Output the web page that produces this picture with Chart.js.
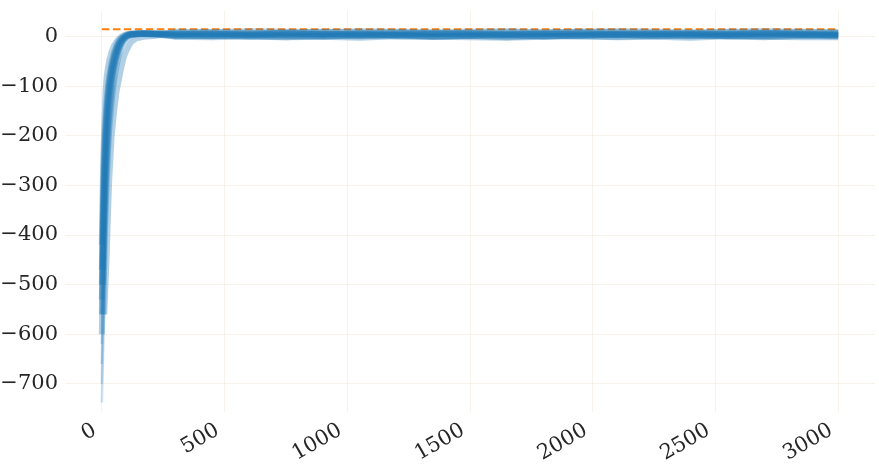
<!DOCTYPE html>
<html>
<head>
<meta charset="utf-8">
<script src="https://cdn.jsdelivr.net/npm/chart.js@4/dist/chart.umd.min.js"></script>
<style>
html,body{margin:0;padding:0;background:#fff;}
#wrap{width:879px;height:475px;position:relative;}
</style>
</head>
<body>
<div id="wrap"><canvas id="c" width="879" height="475"></canvas></div>
<script>
// Step positions shared by all runs
const steps = [0,5,10,15,20,25,30,40,50,60,70,80,90,100,110,120,140,170,220,
  300,450,600,750,900,1050,1200,1350,1500,1650,1800,1950,2100,2250,2400,2550,2700,2850,3000];

// Individual run curves
const run1  = [-420,-260,-180,-110,-80,-62,-48,-30,-18,-10,-4,0,3,5,6,6,7,7,6,
  6,7,5,8,6,5,7,6,8,5,6,7,6,5,7,6,8,6,7];
const run2  = [-700,-560,-450,-360,-290,-235,-190,-130,-88,-58,-36,-20,-10,-3,1,3,5,6,5,
  3,1,4,2,0,3,4,1,2,3,0,3,4,2,1,3,2,4,3];
const run3  = [-660,-500,-390,-310,-250,-200,-160,-105,-70,-45,-27,-14,-6,-1,2,4,5,6,6,
  5,6,4,7,5,6,3,5,6,4,5,7,5,4,6,5,6,5,4];
const run4  = [-620,-470,-360,-280,-220,-175,-140,-92,-60,-38,-22,-11,-4,0,3,4,5,5,4,
  1,2,0,-1,2,1,3,0,2,-1,2,1,0,2,3,1,-1,2,1];
const run5  = [-600,-440,-330,-250,-195,-155,-125,-82,-54,-34,-20,-10,-3,1,3,5,6,6,5,
  4,5,3,4,6,2,4,5,3,4,5,3,4,6,4,3,5,4,3];
const run6  = [-560,-410,-300,-225,-175,-140,-112,-74,-48,-30,-17,-8,-2,2,4,5,6,6,6,
  8,9,7,8,10,8,9,7,8,9,8,10,9,8,7,9,8,9,8];
const run7  = [-530,-380,-275,-205,-160,-126,-100,-66,-43,-26,-14,-6,-1,2,4,5,6,7,6,
  0,-1,1,-1,0,-2,1,0,-1,-2,0,1,-1,0,-2,1,0,-1,-1];
const run8  = [-500,-350,-250,-185,-145,-114,-90,-60,-38,-22,-11,-4,0,3,5,6,6,7,7,
  6,5,7,6,4,7,6,8,5,6,7,5,6,7,6,5,7,6,5];
const run9  = [-470,-320,-225,-165,-128,-100,-80,-52,-32,-18,-8,-2,1,4,5,6,6,7,6,
  2,3,1,3,2,4,1,0,2,3,1,2,4,2,3,1,2,3,2];
const run10 = [-738,-640,-560,-500,-440,-360,-290,-200,-150,-110,-85,-60,-40,-28,-18,-10,-3,0,2,
  10,9,11,10,9,11,10,9,10,11,9,10,11,10,9,10,11,10,9];
const runs = [run1,run2,run3,run4,run5,run6,run7,run8,run9,run10];

// Reference (target) level
const targetSteps = [0, 3000];
const targetLevel = [15, 15];

// Tick values
const xTicks = [0,500,1000,1500,2000,2500,3000];
const yTicks = [0,-100,-200,-300,-400,-500,-600,-700];

const datasets = runs.map(r => ({
  data: steps.map((s,i) => ({x:s, y:r[i]})),
  borderColor: 'rgba(31,119,180,0.35)',
  borderWidth: 6,
  pointRadius: 0,
  tension: 0,
  fill: false,
  segment: {
    borderWidth: ctx => (ctx.p0.parsed.y < -600 ? 2.5 : undefined),
    borderColor: ctx => (ctx.p0.parsed.y < -600 ? 'rgba(31,119,180,0.22)' : undefined)
  }
}));
datasets.push({
  data: targetSteps.map((s,i) => ({x:s, y:targetLevel[i]})),
  borderColor: '#ff7f0e',
  borderWidth: 2,
  borderDash: [7.5,3.5],
  pointRadius: 0,
  fill: false
});

const gridColor = 'rgba(235,225,205,0.4)';
const fmt = v => (v < 0 ? '\u2212' + Math.abs(v) : String(v));

new Chart(document.getElementById('c'), {
  type: 'line',
  data: { datasets },
  options: {
    responsive: false,
    animation: false,
    devicePixelRatio: 1,
    layout: { padding: { top: 11, right: 4, left: 0, bottom: 0 } },
    plugins: { legend: { display: false }, tooltip: { enabled: false } },
    scales: {
      x: {
        type: 'linear',
        min: -150, max: 3150,
        afterBuildTicks: s => { s.ticks = xTicks.map(v => ({value:v})); },
        afterFit: s => { s.height = 63; s.paddingLeft = 0; s.paddingRight = 0; },
        grid: { color: gridColor, drawTicks: false, lineWidth: 1 },
        border: { display: false },
        ticks: {
          font: { family: 'DejaVu Serif', size: 21 },
          color: '#262626',
          maxRotation: 30, minRotation: 30,
          padding: 6,
          labelOffset: -7,
          callback: v => fmt(v)
        }
      },
      y: {
        type: 'linear',
        min: -757, max: 52,
        afterBuildTicks: s => { s.ticks = yTicks.map(v => ({value:v})); },
        afterFit: s => { s.width = 65; s.paddingTop = 0; s.paddingBottom = 0; },
        grid: { color: gridColor, drawTicks: false, lineWidth: 1 },
        border: { display: false },
        ticks: {
          font: { family: 'DejaVu Serif', size: 21 },
          color: '#262626',
          padding: 7,
          callback: v => fmt(v)
        }
      }
    }
  }
});
</script>
</body>
</html>
